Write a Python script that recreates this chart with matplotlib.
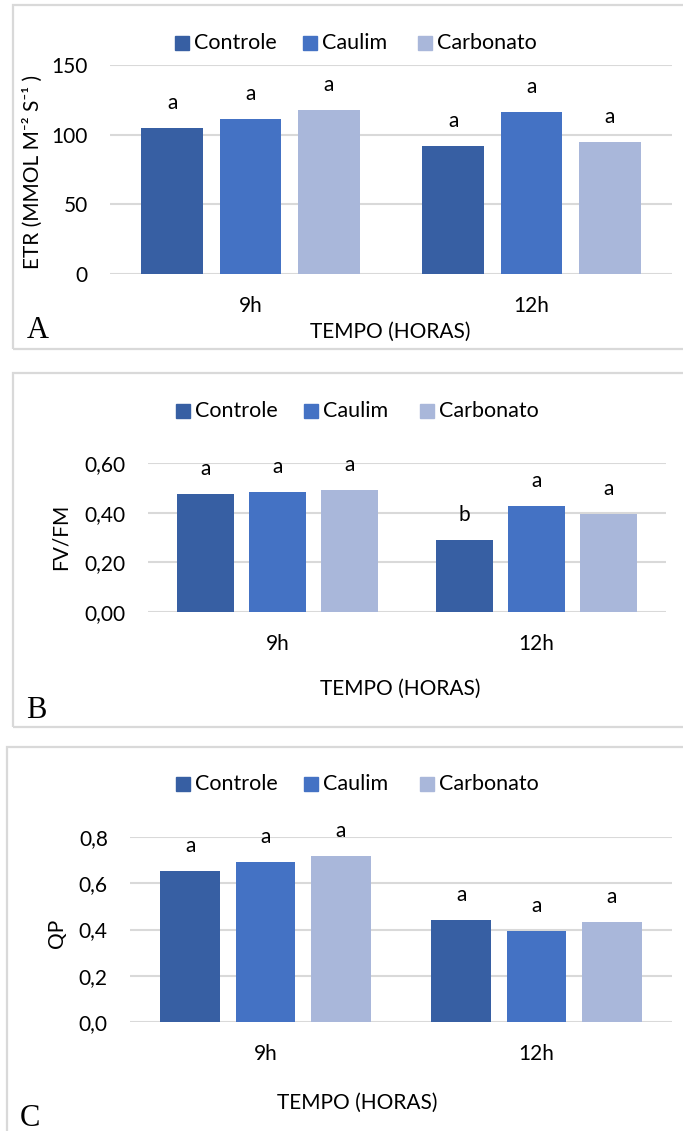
import matplotlib
matplotlib.use("Agg")
import matplotlib.pyplot as plt
from matplotlib.patches import Rectangle
import numpy as np

plt.rcParams['font.family'] = ['Lato', 'DejaVu Sans']

# data
tempos = ["9h", "12h"]
tratamentos = ["Controle", "Caulim", "Carbonato"]
cores = ["#375FA3", "#4472C4", "#A9B7DA"]

etr = [[105, 92], [111, 116], [118, 95]]
etr_letras = [["a", "a"], ["a", "a"], ["a", "a"]]

fvfm = [[0.475, 0.290], [0.484, 0.427], [0.492, 0.396]]
fvfm_letras = [["a", "b"], ["a", "a"], ["a", "a"]]

qp = [[0.655, 0.443], [0.691, 0.395], [0.717, 0.434]]
qp_letras = [["a", "a"], ["a", "a"], ["a", "a"]]

W, H = 683, 1131
fig = plt.figure(figsize=(W / 100, H / 100), dpi=100)
grid_cor = "#D9D9D9"


def px(x, y):
    # pixel (from top-left) -> figure fraction
    return x / W, 1 - y / H


def painel(vals, letras, ylim, yticks, fmt, box, ax_px, ylabel, ylab_xy,
           xlab_xy, letra, letra_xy, leg_y, leg_x):
    # frame around the panel
    x0, y0, x1, y1 = box
    fig.patches.append(Rectangle(px(x0, y1), (x1 - x0) / W, (y1 - y0) / H,
                                 transform=fig.transFigure, fill=False,
                                 edgecolor=grid_cor, lw=1.6))
    l, t, r, b = ax_px
    ax = fig.add_axes([l / W, 1 - b / H, (r - l) / W, (b - t) / H])
    x = np.arange(len(tempos))
    for i, nome in enumerate(tratamentos):
        pos = x + (i - 1) * 0.278
        ax.bar(pos, vals[i], width=0.22, color=cores[i], zorder=3)
        for xp, v, s in zip(pos, vals[i], letras[i]):
            ax.annotate(s, (xp, v), xytext=(0, 18), textcoords="offset points",
                        ha="center", va="center", fontsize=15)
    ax.set_xlim(-0.5, 1.5)
    ax.set_ylim(*ylim)
    ax.set_yticks(yticks)
    ax.set_yticklabels([fmt(v) for v in yticks])
    ax.set_xticks(x)
    ax.set_xticklabels(tempos)
    ax.yaxis.grid(True, color=grid_cor, lw=1.5, zorder=0)
    ax.set_axisbelow(True)
    for s in ax.spines.values():
        s.set_visible(False)
    ax.tick_params(length=0, labelsize=15, pad=16)
    ax.set_facecolor("none")
    # y label, x label, panel letter
    fig.text(*px(*ylab_xy), ylabel, rotation=90, ha="center", va="center",
             fontsize=15)
    fig.text(*px(*xlab_xy), "TEMPO (HORAS)", ha="center", va="center",
             fontsize=15)
    fig.text(*px(*letra_xy), letra, ha="center", va="center", fontsize=22,
             family="Liberation Serif")
    # legend drawn by hand along the top
    for i, nome in enumerate(tratamentos):
        fig.patches.append(Rectangle(px(leg_x[i], leg_y + 7), 14 / W, 14 / H,
                                     transform=fig.transFigure,
                                     color=cores[i]))
        fig.text(*px(leg_x[i] + 19, leg_y), nome, ha="left", va="center",
                 fontsize=15.5)
    return ax


painel(etr, etr_letras, (0, 150), [0, 50, 100, 150], lambda v: f"{v:d}",
       (13, 5, 700, 349), (110, 65, 672, 274), "ETR (MMOL M⁻² S⁻¹ )",
       (33, 172), (390, 332), "A", (38, 330), 43, [175, 303, 418])

painel(fvfm, fvfm_letras, (0, 0.6), [0, 0.2, 0.4, 0.6],
       lambda v: f"{v:.2f}".replace(".", ","),
       (13, 373, 700, 727), (148, 463, 666, 612), "FV/FM",
       (61, 537), (400, 689), "B", (36, 710), 411, [176, 304, 420])

painel(qp, qp_letras, (0, 0.8), [0, 0.2, 0.4, 0.6, 0.8],
       lambda v: f"{v:.1f}".replace(".", ","),
       (7, 747, 700, 1160), (130, 837, 672, 1022), "QP",
       (57, 933), (357, 1103), "C", (30, 1118), 784, [176, 304, 420])

fig.savefig("out.png", dpi=100, facecolor="white")
